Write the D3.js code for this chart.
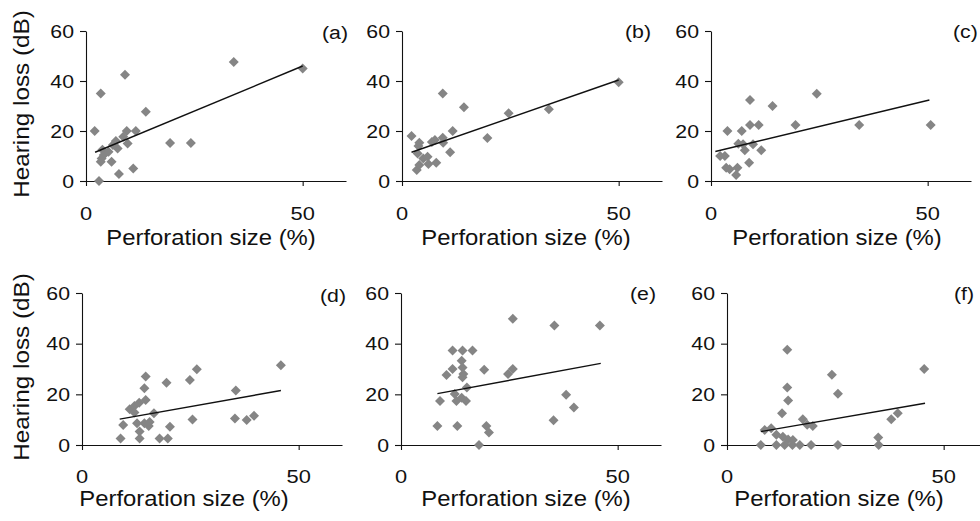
<!DOCTYPE html>
<html>
<head>
<meta charset="utf-8">
<script src="https://cdn.jsdelivr.net/npm/d3@7"></script>
<style>
  body { margin:0; background:#fff; }
  svg text { font-family:"Liberation Sans", Arial, sans-serif; fill:#111; }
  .axis path, .axis line { stroke:#111; stroke-width:1.1; }
</style>
</head>
<body>
<svg id="chart" width="980" height="521"></svg>
<script>
// Ticks and texts
var xTicks = [0, 50];
var yTicks = [0, 20, 40, 60];
var panelLabels = ["(a)", "(b)", "(c)", "(d)", "(e)", "(f)"];
var xTitle = "Perforation size (%)";
var yTitle = "Hearing loss (dB)";

// Points [perforation size %, hearing loss dB]
var pointsA = [[2,20],[3.4,35],[3,0],[3.4,7.7],[3.6,9],[3.8,12.5],[4.1,10.4],[5.2,11.7],[5.9,7.7],[6.2,14.4],
               [6.9,16],[7.3,13],[7.6,2.8],[8.6,17.7],[9,42.5],[9.4,20],[9.6,15],[10.9,5],[11.5,20],[13.8,27.7],
               [19.4,15.2],[24.2,15.2],[34.1,47.6],[50,45]];
var pointsB = [[2.2,18],[3.6,11],[3.8,14],[4,15.3],[3.4,4.4],[4,6.4],[4.9,9],[5.9,9.7],[6.1,6.8],[6.9,15.6],
               [7.6,16.4],[7.9,7.3],[9.4,17.3],[9.5,15.3],[9.4,35],[11.1,11.5],[11.7,20],[14.3,29.5],[19.7,17.2],
               [24.6,27.1],[33.9,28.7],[50,39.5]];
var pointsC = [[2.1,10],[3.2,10],[3.8,20],[3.5,5.3],[4.3,4.7],[6.1,5.3],[5.8,2.4],[7.1,20],[9,32.4],[9,22.4],
               [11,22.4],[6.3,14.9],[7.4,14.7],[7.8,12.3],[9.7,14.7],[11.6,12.3],[8.8,7.3],[14.2,30],[19.5,22.4],
               [24.4,34.9],[34.2,22.4],[50.7,22.4]];
var pointsD = [[8.9,2.6],[9.5,7.9],[11,14.1],[12.1,15.4],[12.1,12.8],[12.7,8.6],[13.2,16.7],[13.3,5.3],[13.3,2.6],
               [14.4,22.4],[14.7,27],[14.7,17.8],[14.4,8.6],[15.4,7.5],[15.6,9.1],[16.6,12.5],[17.9,2.6],[19.8,2.6],
               [20.3,7.2],[19.5,24.6],[24.9,25.7],[26.5,29.9],[25.5,10.1],[35.5,21.5],[35.3,10.5],[38,9.9],
               [39.7,11.5],[45.9,31.5]];
var pointsE = [[8.4,7.5],[9,17.4],[10.5,27.6],[11.9,30],[11.9,37.3],[14.2,37.3],[16.5,37.3],[13,7.5],[14,33.3],
               [14.2,30.6],[14.4,28],[14.2,26.7],[12.4,20.1],[12.8,17.4],[14,18.7],[15,17.4],[15.2,22.7],[18,0],
               [19.2,29.7],[19.7,7.5],[20.3,4.9],[24.7,28],[25.8,30],[25.8,49.8],[35.4,47.2],[35.2,9.8],
               [38.1,19.8],[39.9,14.8],[45.9,47.2]];
var pointsF = [[7.8,0],[8.7,5.9],[10.2,6.6],[11.4,4],[11.4,0],[12.9,3.3],[13.3,0],[12.7,12.5],[13.9,37.6],
               [13.9,22.7],[14.1,17.6],[14.1,2.2],[15.1,0],[15.2,2],[16.8,0],[17.5,10.2],[18.5,8],[19.8,7.5],
               [19.4,0],[24.2,27.7],[25.6,20.2],[25.6,0],[34.9,3],[35,0],[37.9,10.2],[39.4,12.5],[45.5,30]];

// Fitted lines, end points
var trendA = [[2.1,11.5],[50,46]];
var trendB = [[2.2,11.5],[50,40.4]];
var trendC = [[1,11.8],[50.4,32.4]];
var trendD = [[8.7,10.2],[45.9,21.5]];
var trendE = [[8.4,20.3],[46.1,32.2]];
var trendF = [[7.8,5.3],[45.7,16.5]];

var allPoints = [pointsA, pointsB, pointsC, pointsD, pointsE, pointsF];
var allTrends = [trendA, trendB, trendC, trendD, trendE, trendF];

// Layout of the six panels
var panels = [
  { left:86,  top:31,  h:150, yTitle:true,  tickDy:39, titleDx:125, titleY:245, labelX:322, labelY:39 },
  { left:402, top:31,  h:150, yTitle:false, tickDy:39, titleDx:124, titleY:245, labelX:625, labelY:38 },
  { left:711, top:31,  h:150, yTitle:false, tickDy:39, titleDx:126, titleY:245, labelX:953, labelY:38 },
  { left:82,  top:293, h:152, yTitle:true,  tickDy:37.5, titleDx:102, titleY:506, labelX:320, labelY:302 },
  { left:401, top:293, h:152, yTitle:false, tickDy:37.5, titleDx:125, titleY:506, labelX:630, labelY:300 },
  { left:727, top:293, h:152, yTitle:false, tickDy:37.5, titleDx:112, titleY:506, labelX:954, labelY:300 }
];
var w_panel = 260;

var svg = d3.select("#chart");

// text stretched a little sideways, like the scanned figure
var stext = function(g, x, y, str, size, sx, anchor, rot) {
  return g.append("text")
          .attr("transform", "translate(" + x + "," + y + ")" + (rot ? " rotate(-90)" : "") + " scale(" + sx + ",1)")
          .attr("text-anchor", anchor)
          .style("font-size", size + "px")
          .text(str);
}

var diamond = d3.symbol().type(d3.symbolSquare).size(50);

panels.forEach(function(p, i) {
  var xScale = d3.scaleLinear().domain([0, 60]).range([p.left, p.left + w_panel]);
  var yScale = d3.scaleLinear().domain([0, 60]).range([p.top + p.h, p.top]);
  var g = svg.append("g").attr("class", "panel");

  // axes
  g.append("g")
   .attr("class", "axis")
   .attr("transform", "translate(" + p.left + ",0)")
   .call(d3.axisLeft(yScale).tickValues(yTicks).tickSize(6).tickSizeOuter(0).tickFormat(""));
  g.append("g")
   .attr("class", "axis")
   .attr("transform", "translate(0," + (p.top + p.h) + ")")
   .call(d3.axisBottom(xScale).tickValues(xTicks).tickSize(5).tickSizeOuter(0).tickFormat(""));

  // tick labels
  yTicks.forEach(function(v) {
    stext(g, p.left - 12, yScale(v) + 6.8, v, 18.5, 1.15, "end", false);
  });
  xTicks.forEach(function(v) {
    stext(g, xScale(v), p.top + p.h + p.tickDy, v, 19, 1.15, "middle", false);
  });

  // axis titles
  stext(g, p.left + p.titleDx, p.titleY, xTitle, 21.5, 1.11, "middle", false);
  if (p.yTitle) {
    stext(g, 28.5, p.top + p.h / 2 - 2, yTitle, 21.5, 1.13, "middle", true);
  }

  // panel letter
  stext(g, p.labelX, p.labelY, panelLabels[i], 19, 1.12, "start", false);

  // points
  g.selectAll("path.pt")
   .data(allPoints[i])
   .enter()
   .append("path")
   .attr("class", "pt")
   .attr("d", diamond)
   .attr("transform", function(d) { return "translate(" + xScale(d[0]) + "," + yScale(d[1]) + ") rotate(45)"; })
   .style("fill", "#858585");

  // fitted line
  g.append("path")
   .datum(allTrends[i])
   .attr("d", d3.line().x(function(d) { return xScale(d[0]); }).y(function(d) { return yScale(d[1]); }))
   .style("fill", "none")
   .style("stroke", "#111")
   .style("stroke-width", 1.4);
});
</script>
</body>
</html>
